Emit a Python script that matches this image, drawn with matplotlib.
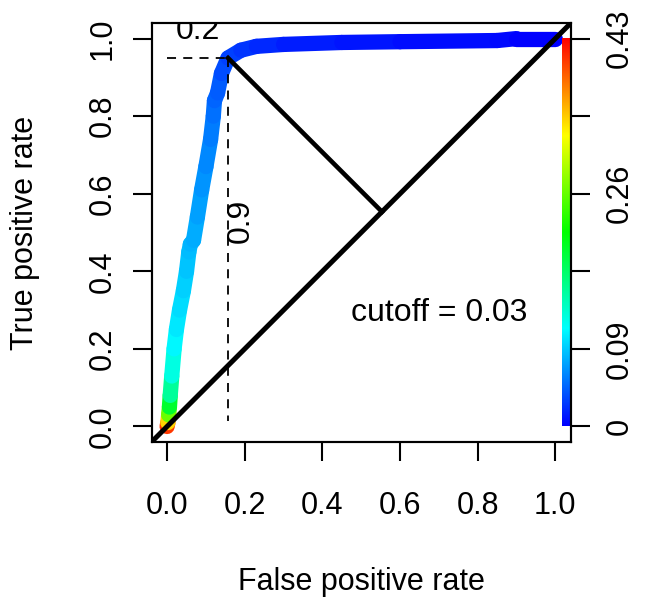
import numpy as np
import matplotlib
matplotlib.use("Agg")
import matplotlib.pyplot as plt
from matplotlib.collections import LineCollection
from matplotlib.colors import ListedColormap, hsv_to_rgb

plt.rcParams['font.family'] = ['Liberation Sans', 'DejaVu Sans']

# ROC curve points
fpr = [0.0, 0.002, 0.004, 0.006, 0.008, 0.012, 0.018, 0.024, 0.032, 0.042,
       0.050, 0.056, 0.060, 0.068, 0.078, 0.089, 0.100, 0.112, 0.119, 0.122,
       0.130, 0.140, 0.157, 0.19, 0.23, 0.30, 0.45, 0.60, 0.85, 0.90, 1.0]
tpr = [0.0, 0.01, 0.03, 0.05, 0.08, 0.13, 0.20, 0.25, 0.30, 0.35,
       0.40, 0.45, 0.47, 0.48, 0.54, 0.61, 0.67, 0.74, 0.80, 0.84,
       0.86, 0.91, 0.95, 0.97, 0.98, 0.985, 0.99, 0.992, 0.995, 1.0, 1.0]
cutoff = [0.43, 0.38, 0.30, 0.22, 0.17, 0.13, 0.11, 0.10, 0.095, 0.09,
          0.085, 0.08, 0.078, 0.075, 0.07, 0.065, 0.06, 0.055, 0.05, 0.045,
          0.042, 0.037, 0.03, 0.025, 0.02, 0.015, 0.01, 0.008, 0.005, 0.003, 0.0]

cut_max = 0.43
key_pos = [0.0, 0.2, 0.4, 0.6, 0.8, 1.0]
key_labels = ['0', '0.09', '', '0.26', '', '0.43']

best_fpr, best_tpr = 0.157, 0.95
best_cut = 0.03

# rainbow: blue (low cutoff) -> red (high cutoff)
h = np.linspace(2 / 3, 0, 256)
rgb = hsv_to_rgb(np.column_stack([h, np.ones(256), np.ones(256)]))
cmap = ListedColormap(rgb)

fig = plt.figure(figsize=(6.45, 6.01), dpi=100)
ax = fig.add_axes([0.235, 0.2646, 0.65, 0.697])

x = np.array(fpr)
y = np.array(tpr)
c = np.array(cutoff)
pts = np.column_stack([x, y]).reshape(-1, 1, 2)
segs = np.concatenate([pts[:-1], pts[1:]], axis=1)
lc = LineCollection(segs, cmap=cmap, norm=plt.Normalize(0, cut_max),
                    linewidths=11, capstyle='round', joinstyle='round')
lc.set_array((c[:-1] + c[1:]) / 2)
ax.add_collection(lc)

# colour key on the right
grad = np.linspace(0, 1, 256).reshape(-1, 1)
ax.imshow(grad, cmap=cmap, aspect='auto', origin='lower',
          extent=[1.018, 1.04, 0, 1], zorder=2)

# diagonal and distance to it
ax.plot([-0.1, 1.1], [-0.1, 1.1], color='black', lw=3.6, zorder=3)
mid = (best_fpr + best_tpr) / 2
ax.plot([best_fpr, mid], [best_tpr, mid], color='black', lw=3.3, zorder=3)

# dashed guides
ax.plot([0, best_fpr], [best_tpr, best_tpr], color='black', lw=1.3, ls=(0, (5, 4)))
ax.plot([best_fpr, best_fpr], [best_tpr, 0.015], color='black', lw=1.3, ls=(0, (5, 4)))
ax.text(0.08, 1.02, '0.2', ha='center', va='center', fontsize=23, clip_on=True)
ax.text(0.19, 0.53, '0.9', ha='center', va='center', rotation=90, fontsize=23)
ax.text(0.70, 0.292, 'cutoff = %.2f' % best_cut, ha='center', va='center', fontsize=23)

ax.set_xlim(-0.04, 1.04)
ax.set_ylim(-0.04, 1.04)
ticks = [0.0, 0.2, 0.4, 0.6, 0.8, 1.0]
ax.set_xticks(ticks)
ax.set_xticklabels(['%.1f' % t for t in ticks])
ax.set_yticks(ticks)
ax.set_yticklabels(['%.1f' % t for t in ticks], rotation=90, va='center')
ax.tick_params(axis='x', direction='out', length=13.5, width=1.5,
               labelsize=22, pad=22)
ax.tick_params(axis='y', direction='out', length=13.5, width=1.5,
               labelsize=22, pad=11)
for s in ax.spines.values():
    s.set_linewidth(1.5)

ax2 = ax.twinx()
ax2.set_ylim(-0.04, 1.04)
ax2.set_yticks(key_pos)
ax2.set_yticklabels(key_labels, rotation=90, va='center')
ax2.tick_params(axis='y', direction='out', length=13.5, width=1.5,
                labelsize=22, pad=11)
for s in ax2.spines.values():
    s.set_linewidth(1.5)

ax.set_xlabel('False positive rate', fontsize=22, labelpad=33)
ax.set_ylabel('True positive rate', fontsize=22, labelpad=34)

fig.savefig('out.png', dpi=100)
